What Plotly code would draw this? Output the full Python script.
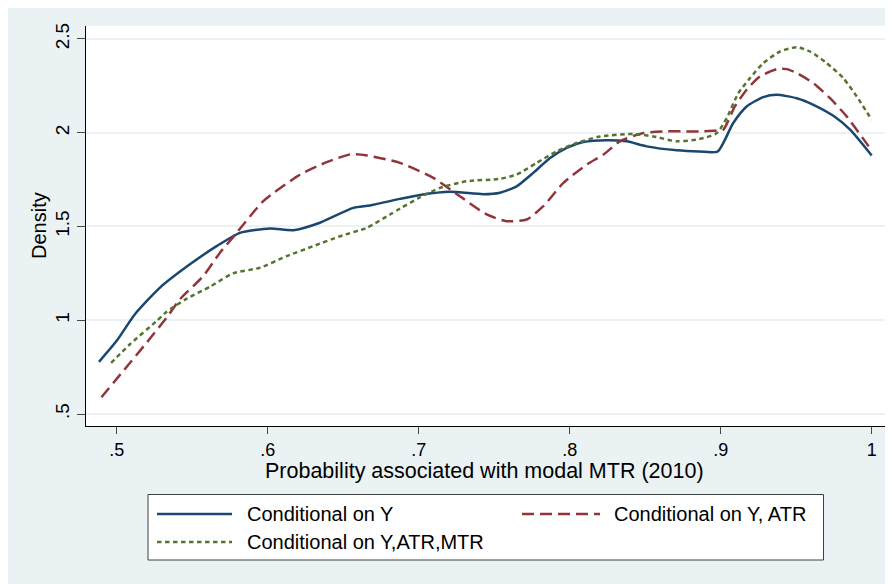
import plotly.graph_objects as go

# ---------------- data ----------------
x_y = [0.4883, 0.500, 0.5121, 0.5287, 0.5485, 0.5662, 0.5817, 0.6015, 0.617, 0.6346,
       0.6567, 0.6677, 0.6876, 0.7008, 0.7207, 0.7428, 0.7539, 0.7649, 0.7759, 0.787,
       0.798, 0.809, 0.8245, 0.8377, 0.851, 0.8709, 0.886, 0.898, 0.9083, 0.9172,
       0.9282, 0.9371, 0.9503, 0.9614, 0.9746, 0.9857, 1.0]
dens_y = [0.778, 0.890, 1.032, 1.174, 1.298, 1.395, 1.466, 1.489, 1.480, 1.520,
          1.599, 1.612, 1.647, 1.668, 1.685, 1.672, 1.680, 1.714, 1.786, 1.865,
          1.919, 1.950, 1.960, 1.954, 1.927, 1.906, 1.900, 1.900, 2.052, 2.140,
          2.190, 2.202, 2.184, 2.149, 2.090, 2.016, 1.878]

x_y_atr = [0.4899, 0.5044, 0.5199, 0.5331, 0.5419, 0.5574, 0.5684, 0.5795, 0.5971, 0.6216,
           0.640, 0.655, 0.665, 0.6876, 0.7097, 0.7273, 0.745, 0.7583, 0.7715, 0.7825,
           0.7958, 0.8113, 0.8223, 0.8333, 0.8488, 0.8642, 0.8753, 0.886, 0.8975, 0.9017,
           0.9094, 0.9172, 0.926, 0.9371, 0.9437, 0.9503, 0.9614, 0.9724, 0.9834, 0.998]
dens_y_atr = [0.589, 0.730, 0.881, 1.014, 1.112, 1.236, 1.360, 1.466, 1.635, 1.777,
              1.846, 1.885, 1.880, 1.839, 1.759, 1.661, 1.564, 1.528, 1.537, 1.608,
              1.732, 1.830, 1.883, 1.954, 1.998, 2.007, 2.007, 2.007, 2.012, 2.016,
              2.140, 2.229, 2.300, 2.339, 2.339, 2.318, 2.264, 2.184, 2.087, 1.927]

x_y_atr_mtr = [0.4963, 0.5088, 0.5265, 0.5331, 0.5464, 0.5618, 0.5772, 0.5949, 0.6126, 0.6302,
               0.6479, 0.6656, 0.681, 0.6876, 0.7008, 0.7141, 0.7318, 0.7539, 0.7649, 0.7781,
               0.7914, 0.8046, 0.8201, 0.8422, 0.8554, 0.8709, 0.886, 0.8974, 0.904, 0.9117,
               0.9194, 0.9282, 0.9393, 0.9503, 0.9592, 0.9702, 0.9812, 0.9901, 1.0]
dens_y_atr_mtr = [0.772, 0.872, 0.996, 1.045, 1.115, 1.179, 1.250, 1.280, 1.342, 1.395,
                  1.448, 1.493, 1.564, 1.595, 1.655, 1.706, 1.741, 1.754, 1.777, 1.839,
                  1.901, 1.945, 1.980, 1.993, 1.980, 1.954, 1.966, 1.998, 2.078, 2.211,
                  2.291, 2.371, 2.433, 2.456, 2.433, 2.371, 2.291, 2.193, 2.069]

series_names = ["Conditional on Y", "Conditional on Y, ATR", "Conditional on Y,ATR,MTR"]
x_tickvals = [0.5, 0.6, 0.7, 0.8, 0.9, 1.0]
x_ticktext = [".5", ".6", ".7", ".8", ".9", "1"]
y_tickvals = [0.5, 1.0, 1.5, 2.0, 2.5]
y_ticktext = [".5", "1", "1.5", "2", "2.5"]
x_title = "Probability associated with modal MTR (2010)"
y_title = "Density"

# ---------------- style ----------------
OFF = 8  # page body margin in the browser
W, H = 893 - OFF, 584 - OFF
ML, MR, MT, MB = 86 - OFF, 8, 26 - OFF, 158
PW, PH = W - ML - MR, H - MT - MB
FONT = "Liberation Sans, Arial, Helvetica, sans-serif"
BG = "#EAF2F3"
colors = ["#1A476F", "#90353B", "#55752F"]
dashes = ["solid", "12px,6px", "4.5px,3.5px"]


def px(xp):
    """page x-pixel -> paper fraction"""
    return (xp - OFF - ML) / PW


def py(yp):
    """page y-pixel -> paper fraction"""
    return (OFF + MT + PH - yp) / PH


fig = go.Figure()
for xs, ys, name, c, d in zip([x_y, x_y_atr, x_y_atr_mtr],
                              [dens_y, dens_y_atr, dens_y_atr_mtr],
                              series_names, colors, dashes):
    fig.add_trace(go.Scatter(x=xs, y=ys, mode="lines", name=name,
                             line=dict(color=c, width=2.5, dash=d, shape="spline", smoothing=0.6),
                             showlegend=False))

shapes = []
annotations = []

# legend box
shapes.append(dict(type="rect", xref="paper", yref="paper", x0=px(148), x1=px(823.5), y0=py(560), y1=py(494.5),
                   fillcolor="white", line=dict(color="#404040", width=1), layer="above"))
leg_pos = [(157, 232, 245, 514), (522, 600, 612, 514), (157, 232, 245, 542)]
for (lx0, lx1, tx, ly), name, c, d in zip(leg_pos, series_names, colors, dashes):
    shapes.append(dict(type="line", xref="paper", yref="paper", x0=px(lx0), x1=px(lx1), y0=py(ly), y1=py(ly),
                       line=dict(color=c, width=2.5, dash=d), layer="above"))
    annotations.append(dict(text=name, xref="paper", yref="paper", x=px(tx), y=py(ly), xanchor="left",
                            yanchor="middle", showarrow=False, font=dict(family=FONT, size=20, color="black")))

# axis titles
annotations.append(dict(text=x_title, xref="paper", yref="paper", x=px(484.5), y=py(470.5), xanchor="center",
                        yanchor="middle", showarrow=False, font=dict(family=FONT, size=21.5, color="black")))
annotations.append(dict(text=y_title, xref="paper", yref="paper", x=px(39), y=py(226), xanchor="center",
                        yanchor="middle", textangle=-90, showarrow=False,
                        font=dict(family=FONT, size=20, color="black")))

fig.update_layout(
    width=W, height=H,
    margin=dict(l=ML, r=MR, t=MT, b=MB),
    paper_bgcolor=BG, plot_bgcolor="white",
    font=dict(family=FONT, size=18, color="black"),
    showlegend=False,
    shapes=shapes, annotations=annotations,
)
fig.update_xaxes(range=[0.4797, 1.0088], tickvals=x_tickvals, ticktext=x_ticktext,
                 showgrid=False, zeroline=False, showline=True, linecolor="black", linewidth=1,
                 ticks="outside", ticklen=7, tickcolor="#444", tickwidth=1,
                 tickfont=dict(family=FONT, size=18, color="black"))
fig.update_yaxes(range=[0.436, 2.569], tickvals=y_tickvals, ticktext=y_ticktext, tickangle=-90,
                 showgrid=True, gridcolor=BG, gridwidth=2, zeroline=False,
                 showline=True, linecolor="black", linewidth=1,
                 ticks="outside", ticklen=8, tickcolor="#444", tickwidth=1,
                 tickfont=dict(family=FONT, size=19, color="black"))

fig.write_html("out.html")
